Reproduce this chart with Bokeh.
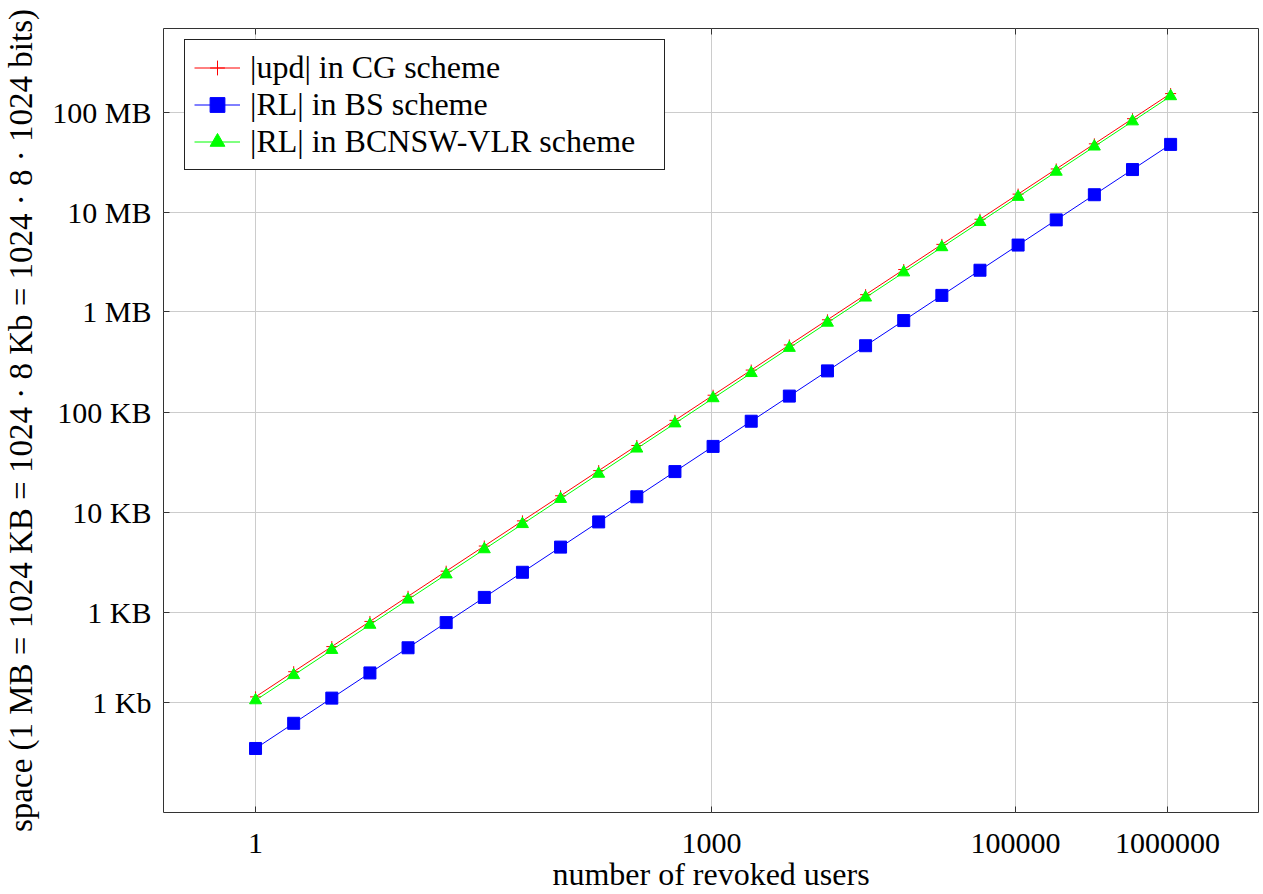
from bokeh.plotting import figure
from bokeh.models import (Range1d, FixedTicker, LogAxis, Legend, LegendItem,
                          CustomJSTickFormatter)
from bokeh.embed import file_html
from bokeh.resources import INLINE

FONT = "Liberation Serif, Tinos, Times New Roman, DejaVu Serif, serif"

# number of revoked users (log-spaced samples, 1 .. 2^20)
users = [1, 1.782, 3.175, 5.657, 10.08, 17.96, 32, 57.02, 101.6, 181.0, 322.5, 574.7,
         1024, 1825, 3251, 5793, 10321, 18390, 32768, 58386, 104032, 185364, 330281,
         588489, 1048576]

# space, in Kb (1 Kb = 1024 bits)
cg_upd_kb = [1.15, 2.053, 3.664, 6.540, 11.67, 20.83, 37.20, 66.41, 118.5, 211.6, 377.6,
             674.1, 1203, 2148, 3833, 6842, 12210, 21792, 38928, 69479, 124006, 221325,
             395016, 705010, 1258291]
bs_rl_kb = [0.350, 0.6253, 1.117, 1.996, 3.565, 6.369, 11.38, 20.32, 36.30, 64.85, 115.8,
            206.9, 369.7, 660.5, 1179, 2107, 3764, 6723, 12010, 21451, 38315, 68455,
            122270, 218388, 390070]
bcnsw_rl_kb = [1.062, 1.897, 3.390, 6.055, 10.82, 19.32, 34.52, 61.67, 110.2, 196.8, 351.5,
               628.0, 1121.8, 2004, 3580, 6395, 11422, 20404, 36445, 65100, 116287, 207719,
               371038, 662756, 1183842]

x_ticks = [1, 1000, 100000, 1000000]
x_tick_labels = ["1", "1000", "100000", "1000000"]
y_ticks = [1, 8, 80, 800, 8192, 81920, 819200]
y_tick_labels = ["1 Kb", "1 KB", "10 KB", "100 KB", "1 MB", "10 MB", "100 MB"]

series_labels = ["|upd| in CG scheme", "|RL| in BS scheme", "|RL| in BCNSW-VLR scheme"]

W, H = 1263, 894
p = figure(width=W, height=H, x_axis_type="log", y_axis_type="log",
           x_range=Range1d(0.248, 3.97e6), y_range=Range1d(0.080, 5.64e6),
           output_backend="svg", toolbar_location=None,
           min_border_left=163, min_border_right=5, min_border_top=28,
           min_border_bottom=79)
p.background_fill_color = "white"
p.border_fill_color = "white"
p.outline_line_color = "#333333"
p.outline_line_width = 1
p.outline_line_alpha = 1

AX = "#333333"
# bottom axis
xa = p.xaxis[0]
xa.ticker = FixedTicker(ticks=x_ticks)
xa.major_label_overrides = {t: s for t, s in zip(x_ticks, x_tick_labels)}
xa.axis_label = "number of revoked users"
# left axis
ya = p.yaxis[0]
ya.ticker = FixedTicker(ticks=y_ticks)
ya.major_label_overrides = {t: s for t, s in zip(y_ticks, y_tick_labels)}
ya.axis_label = "space (1 MB = 1024 KB = 1024 · 8 Kb = 1024 · 8 · 1024 bits)"

for ax in (xa, ya):
    ax.axis_line_color = None
    ax.major_tick_in = 6
    ax.major_tick_out = 0
    ax.minor_tick_line_color = None
    ax.major_tick_line_color = AX
    ax.major_label_text_font = FONT
    ax.major_label_text_font_size = "30px"
    ax.major_label_text_color = "black"
    ax.axis_label_text_font = FONT
    ax.axis_label_text_font_style = "normal"
    ax.axis_label_text_color = "black"
    ax.axis_label_text_line_height = 1.0
xa.major_label_text_line_height = 1.0
xa.axis_label_text_font_size = "32px"
ya.axis_label_text_font_size = "33px"
xa.major_label_standoff = 21
xa.axis_label_standoff = 0
ya.major_label_standoff = 12
ya.axis_label_standoff = 10

# mirrored ticks on the right and top
blank = CustomJSTickFormatter(code="return ''")
ra = LogAxis(ticker=FixedTicker(ticks=y_ticks), formatter=blank, axis_line_color=None,
             major_tick_in=6, major_tick_out=0, minor_tick_line_color=None,
             major_tick_line_color=AX, major_label_standoff=0,
             major_label_text_font_size="1px")
ta = LogAxis(ticker=FixedTicker(ticks=x_ticks), formatter=blank, axis_line_color=None,
             major_tick_in=6, major_tick_out=0, minor_tick_line_color=None,
             major_tick_line_color=AX, major_label_standoff=0,
             major_label_text_font_size="1px")
p.add_layout(ra, "right")
p.add_layout(ta, "above")

for g in (p.xgrid[0], p.ygrid[0]):
    g.grid_line_color = "#cccccc"
    g.grid_line_width = 1

# series
r_line = p.line(users, cg_upd_kb, line_color="#ff0000", line_width=1)
r_pts = p.scatter(users, cg_upd_kb, marker="cross", size=11, line_color="#ff0000",
                  line_width=1)
b_line = p.line(users, bs_rl_kb, line_color="#0000ff", line_width=1)
b_pts = p.scatter(users, bs_rl_kb, marker="square", size=12, fill_color="#0000ff",
                  line_color="#0000ff")
g_line = p.line(users, bcnsw_rl_kb, line_color="#00ff00", line_width=1)
g_pts = p.scatter(users, bcnsw_rl_kb, marker="triangle", size=12, fill_color="#00ff00",
                  line_color="#00ff00")

legend = Legend(items=[
    LegendItem(label=series_labels[0], renderers=[r_line, r_pts]),
    LegendItem(label=series_labels[1], renderers=[b_line, b_pts]),
    LegendItem(label=series_labels[2], renderers=[g_line, g_pts]),
], location=(21, 642), margin=0, padding=9, spacing=0, glyph_width=46,
    glyph_height=37, label_height=37, label_width=405, label_standoff=10,
    label_text_font=FONT, label_text_font_size="32px", label_text_color="black",
    border_line_color="#222222", border_line_width=1, border_line_alpha=1,
    background_fill_color="white", background_fill_alpha=1)
p.add_layout(legend)

open("out.html", "w").write(file_html(p, INLINE))
